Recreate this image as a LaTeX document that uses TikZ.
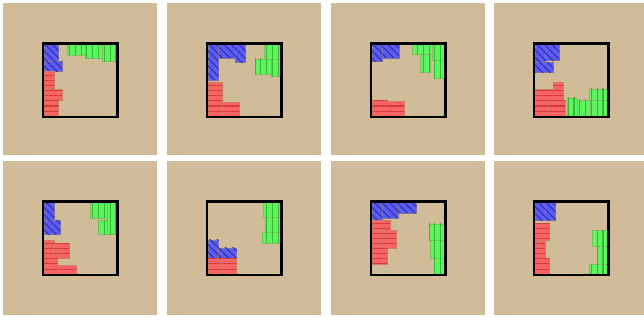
\documentclass[tikz,border=0pt]{standalone}
\usepackage{tikz}
\usetikzlibrary{patterns.meta}
\definecolor{sand}{HTML}{D1BC99}
\definecolor{redfill}{HTML}{F86464}
\definecolor{redline}{HTML}{D23C3C}
\definecolor{bluefill}{HTML}{5C5CF2}
\definecolor{blueline}{HTML}{2E2EB4}
\definecolor{greenfill}{HTML}{60F260}
\definecolor{greenline}{HTML}{2EBE2E}

\begin{document}
\begin{tikzpicture}[
  x=0.02cm, y=-0.02cm,
  board/.style={fill=sand},
  frame/.style={draw=black, line width=1.3pt},
  redpc/.style={fill=redfill, draw=redline!50!sand, line width=0.3pt,
    postaction={pattern={Lines[angle=0,distance=2.9pt,line width=0.6pt]}, pattern color=redline}},
  bluepc/.style={fill=bluefill, draw=blueline!50!sand, line width=0.3pt,
    postaction={pattern={Lines[angle=-45,distance=3pt,line width=0.6pt]}, pattern color=blueline}},
  greenpc/.style={fill=greenfill, draw=greenline!50!sand, line width=0.3pt,
    postaction={pattern={Lines[angle=90,distance=3.3pt,line width=0.6pt]}, pattern color=greenline}}
]
\fill[white] (0,0) rectangle (644,320);

% top row
\begin{scope}[shift={(3,3.5)}]
  \fill[board] (0,0) rectangle (154,151.5);
  \begin{scope}[shift={(41,41)}]
    \filldraw[bluepc] (0,0) rectangle (14.5,17);
    \filldraw[bluepc] (0,17) rectangle (18,27);
    \filldraw[redpc] (0,27) rectangle (10.3,44.3);
    \filldraw[redpc] (0,44.3) rectangle (18,55.3);
    \filldraw[redpc] (0,55.3) rectangle (14.3,72);
    \filldraw[greenpc] (23.3,0) rectangle (41,10.3);
    \filldraw[greenpc] (41,0) rectangle (58,14);
    \filldraw[greenpc] (58,0) rectangle (72.5,16.7);
    \draw[frame] (-1,-1) rectangle (73.5,72.5);
  \end{scope}
\end{scope}

\begin{scope}[shift={(167,3.5)}]
  \fill[board] (0,0) rectangle (154,151.5);
  \begin{scope}[shift={(41,41)}]
    \filldraw[bluepc] (0,0) rectangle (10.7,35.3);
    \filldraw[bluepc] (10.7,0) rectangle (27,13.3);
    \filldraw[bluepc] (27,0) rectangle (37.7,17.7);
    \filldraw[redpc] (0,38) rectangle (14.7,72);
    \filldraw[redpc] (14.7,57.7) rectangle (31.3,72);
    \filldraw[greenpc] (56,0) rectangle (72.5,14.3);
    \filldraw[greenpc] (47,14.3) rectangle (63,29.3);
    \filldraw[greenpc] (63,14.3) rectangle (72.5,31.7);
    \draw[frame] (-1,-1) rectangle (73.5,72.5);
  \end{scope}
\end{scope}

\begin{scope}[shift={(331,3.5)}]
  \fill[board] (0,0) rectangle (154,151.5);
  \begin{scope}[shift={(41,41)}]
    \filldraw[bluepc] (0,0) rectangle (10.3,17);
    \filldraw[bluepc] (10.3,0) rectangle (27,13.3);
    \filldraw[greenpc] (40.3,0) rectangle (60.3,10);
    \filldraw[greenpc] (48,10) rectangle (58,27.7);
    \filldraw[greenpc] (60.3,0) rectangle (72.5,16);
    \filldraw[greenpc] (62,16) rectangle (72.5,33.7);
    \filldraw[redpc] (0,55.3) rectangle (15.3,72);
    \filldraw[redpc] (15.3,57) rectangle (32,72);
    \draw[frame] (-1,-1) rectangle (73.5,72.5);
  \end{scope}
\end{scope}

\begin{scope}[shift={(494,3.5)}]
  \fill[board] (0,0) rectangle (150,151.5);
  \begin{scope}[shift={(41,41)}]
    \filldraw[bluepc] (0,0) rectangle (10,17.7);
    \filldraw[bluepc] (10,0) rectangle (24.3,16);
    \filldraw[bluepc] (0,17.7) rectangle (18.3,27.7);
    \filldraw[redpc] (0,44.3) rectangle (18.3,72);
    \filldraw[redpc] (18.3,38) rectangle (28.3,56);
    \filldraw[redpc] (13.3,56) rectangle (30,72);
    \filldraw[greenpc] (32.7,53.3) rectangle (42.7,72);
    \filldraw[greenpc] (42.7,55.3) rectangle (55.7,72);
    \filldraw[greenpc] (54.3,44.3) rectangle (72.5,56);
    \filldraw[greenpc] (55.7,56) rectangle (72.5,72);
    \draw[frame] (-1,-1) rectangle (73.5,72.5);
  \end{scope}
\end{scope}

% bottom row
\begin{scope}[shift={(3,161)}]
  \fill[board] (0,0) rectangle (154,154);
  \begin{scope}[shift={(41,41.5)}]
    \filldraw[bluepc] (0,0) rectangle (10.3,18);
    \filldraw[bluepc] (0,18) rectangle (16.3,32);
    \filldraw[redpc] (0,37.3) rectangle (10.3,55.3);
    \filldraw[redpc] (10.3,40.3) rectangle (25.3,55.3);
    \filldraw[redpc] (0,55.3) rectangle (13.7,72);
    \filldraw[redpc] (13.7,63) rectangle (32,72);
    \filldraw[greenpc] (46,0) rectangle (63.7,15.3);
    \filldraw[greenpc] (63.7,0) rectangle (72,32);
    \filldraw[greenpc] (54.7,18) rectangle (63.7,32);
    \draw[frame] (-1,-1) rectangle (73.5,72.5);
  \end{scope}
\end{scope}

\begin{scope}[shift={(167,161)}]
  \fill[board] (0,0) rectangle (154,154);
  \begin{scope}[shift={(41,41.5)}]
    \filldraw[bluepc] (0,37.3) rectangle (10.7,55.3);
    \filldraw[bluepc] (10.7,45.3) rectangle (28.7,55.3);
    \filldraw[redpc] (0,55.3) rectangle (14.7,72);
    \filldraw[redpc] (14.7,55.3) rectangle (28.7,72);
    \filldraw[greenpc] (55.3,0) rectangle (72,14.3);
    \filldraw[greenpc] (57.3,14.3) rectangle (72,29.7);
    \filldraw[greenpc] (54,29.7) rectangle (72,40.3);
    \draw[frame] (-1,-1) rectangle (73.5,72.5);
  \end{scope}
\end{scope}

\begin{scope}[shift={(331,161)}]
  \fill[board] (0,0) rectangle (154,154);
  \begin{scope}[shift={(41,41.5)}]
    \filldraw[bluepc] (0,0) rectangle (10.3,18);
    \filldraw[bluepc] (10.3,0) rectangle (26,15.3);
    \filldraw[bluepc] (26,0) rectangle (44.3,10.3);
    \filldraw[redpc] (0,18) rectangle (18,28);
    \filldraw[redpc] (0,28) rectangle (10.3,45.3);
    \filldraw[redpc] (10.3,28) rectangle (24.7,45.3);
    \filldraw[redpc] (0,45.3) rectangle (15.3,62);
    \filldraw[greenpc] (57,21.3) rectangle (72,38);
    \filldraw[greenpc] (58.7,38) rectangle (72,55.3);
    \filldraw[greenpc] (62,55.3) rectangle (72,72);
    \draw[frame] (-1,-1) rectangle (73.5,72.5);
  \end{scope}
\end{scope}

\begin{scope}[shift={(494,161)}]
  \fill[board] (0,0) rectangle (150,154);
  \begin{scope}[shift={(41,41.5)}]
    \filldraw[bluepc] (0,0) rectangle (10.3,18);
    \filldraw[bluepc] (10.3,0) rectangle (20.7,18);
    \filldraw[redpc] (0,20.7) rectangle (14.7,37.3);
    \filldraw[redpc] (0,37.3) rectangle (10.3,56);
    \filldraw[redpc] (0,56) rectangle (14.7,72);
    \filldraw[greenpc] (57.3,28) rectangle (72.5,44);
    \filldraw[greenpc] (62,44) rectangle (72.5,62);
    \filldraw[greenpc] (54.7,62) rectangle (72.5,72);
    \draw[frame] (-1,-1) rectangle (73.5,72.5);
  \end{scope}
\end{scope}
\end{tikzpicture}
\end{document}
